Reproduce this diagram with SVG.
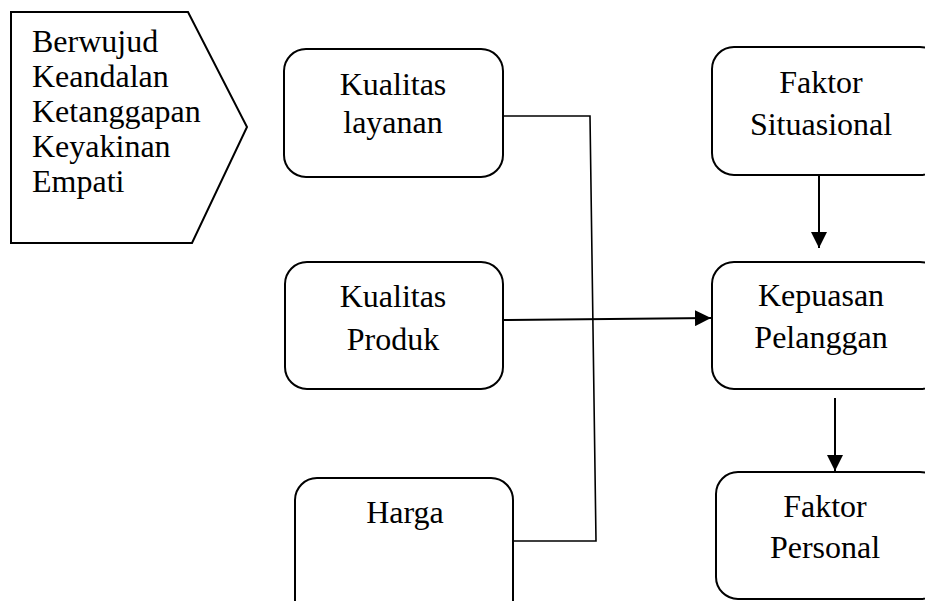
<svg xmlns="http://www.w3.org/2000/svg" width="925" height="601" viewBox="0 0 925 601">
<style>
.box{fill:#fff;stroke:#000;stroke-width:2}
.t{font-family:"Liberation Serif","Times New Roman",serif;font-size:32px;fill:#000}
.c{text-anchor:middle}
.ln{fill:none;stroke:#000;stroke-width:2}
.thin{fill:none;stroke:#000;stroke-width:1.6}
</style>
<defs>
<marker id="ah" markerWidth="16" markerHeight="16" viewBox="0 0 16 16" refX="16" refY="8" orient="auto" markerUnits="userSpaceOnUse">
<path d="M0,0 L16,8 L0,16 Z" fill="#000"/>
</marker>
</defs>
<rect width="925" height="601" fill="#fff"/>
<g id="dimensi">
<polygon class="box" points="11,12 188,12 247,127 192,243 11,243"/>
<text class="t" x="32" y="52">Berwujud</text>
<text class="t" x="32" y="87">Keandalan</text>
<text class="t" x="32" y="122">Ketanggapan</text>
<text class="t" x="32" y="157">Keyakinan</text>
<text class="t" x="32" y="192">Empati</text>
</g>
<g id="kualitas-layanan">
<rect class="box" x="284" y="49" width="219" height="128" rx="22"/>
<text class="t c" x="393" y="95">Kualitas</text>
<text class="t c" x="393" y="133">layanan</text>
</g>
<g id="kualitas-produk">
<rect class="box" x="285" y="262" width="218" height="127" rx="22"/>
<text class="t c" x="393" y="307">Kualitas</text>
<text class="t c" x="393" y="350">Produk</text>
</g>
<g id="harga">
<rect class="box" x="295" y="478" width="218" height="150" rx="22"/>
<text class="t c" x="405" y="523">Harga</text>
</g>
<g id="faktor-situasional">
<rect class="box" x="712" y="47" width="230" height="128" rx="22"/>
<text class="t c" x="821" y="93">Faktor</text>
<text class="t c" x="821" y="135">Situasional</text>
</g>
<g id="kepuasan-pelanggan">
<rect class="box" x="712" y="262" width="230" height="127" rx="22"/>
<text class="t c" x="821" y="306">Kepuasan</text>
<text class="t c" x="821" y="348">Pelanggan</text>
</g>
<g id="faktor-personal">
<rect class="box" x="716" y="472" width="226" height="127" rx="22"/>
<text class="t c" x="825" y="517">Faktor</text>
<text class="t c" x="825" y="558">Personal</text>
</g>
<g id="connectors">
<polyline class="thin" points="503,116 590,116 596,541 513,541"/>
<line class="ln" x1="503" y1="320" x2="711" y2="318" marker-end="url(#ah)"/>
<line class="ln" x1="819" y1="175" x2="819" y2="248" marker-end="url(#ah)"/>
<line class="ln" x1="835" y1="398" x2="835" y2="471" marker-end="url(#ah)"/>
</g>
</svg>
